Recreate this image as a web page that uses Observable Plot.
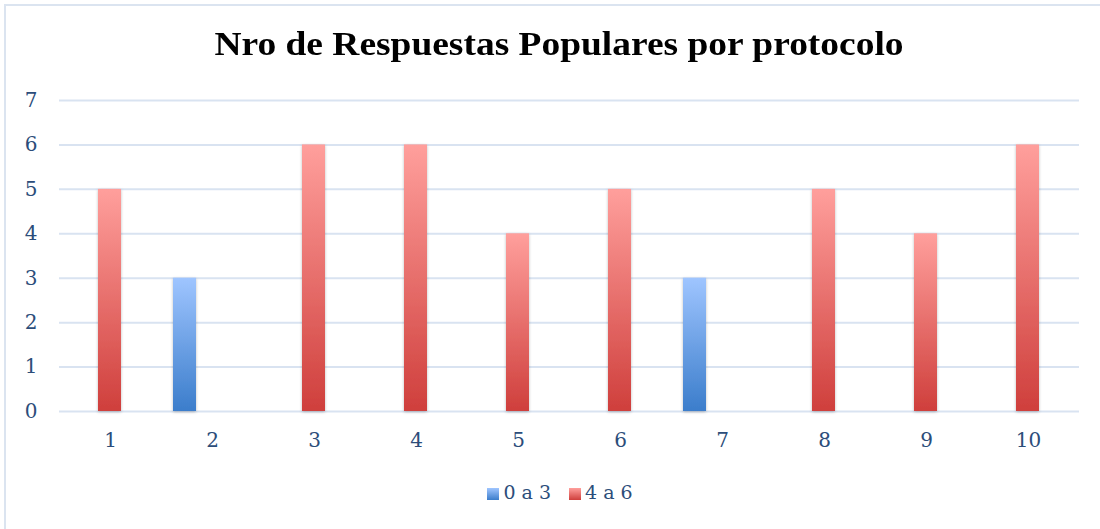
<!DOCTYPE html>
<html>
<head>
<meta charset="utf-8">
<script src="https://cdn.jsdelivr.net/npm/d3@7"></script>
<script src="https://cdn.jsdelivr.net/npm/@observablehq/plot@0.6"></script>
<style>
  html, body { margin: 0; padding: 0; background: #fff; }
  #wrap { position: relative; width: 1100px; height: 529px; overflow: hidden; background: #fff; }
  #frame { position: absolute; left: 4px; top: 4px; width: 1110px; height: 540px; border: 2px solid #dbe4f0; box-sizing: border-box; }
  #title { position: absolute; left: 0; width: 1118px; top: 26px; text-align: center; font-family: "Liberation Serif", "Times New Roman", serif; font-weight: bold; font-size: 33px; color: #000; transform: scaleX(1.135); transform-origin: 559px 0; }
  #chart { position: absolute; left: 0; top: 80px; }
  #legend { position: absolute; left: 0; width: 1120px; top: 481px; text-align: center; font-family: "DejaVu Serif", serif; font-size: 19px; color: #2c4d7a; }
  #legend span.item { display: inline-block; margin: 0 9px; }
  #legend span.sw { display: inline-block; width: 12px; height: 12px; margin-right: 4px; vertical-align: -1px; }
</style>
</head>
<body>
<div id="wrap">
  <div id="frame"></div>
  <div id="title">Nro de Respuestas Populares por protocolo</div>
  <div id="chart"></div>
  <div id="legend"></div>
</div>
<script>
const protocols = ["1", "2", "3", "4", "5", "6", "7", "8", "9", "10"];
const groups = ["4 a 6", "0 a 3", "4 a 6", "4 a 6", "4 a 6", "4 a 6", "0 a 3", "4 a 6", "4 a 6", "4 a 6"];
const values = [5, 3, 6, 6, 4, 5, 3, 5, 4, 6];
const seriesNames = ["0 a 3", "4 a 6"];
const emptySlot = "(sin serie)";
const yTicks = [0, 1, 2, 3, 4, 5, 6, 7];
const gradients = {"0 a 3": ["#9fc5ff", "#3b7dcb"], "4 a 6": ["#ff9f9c", "#cf3f3c"]};
const gradIds = {"0 a 3": "gBlue", "4 a 6": "gRed"};

const data = protocols.map((p, i) => ({protocol: p, group: groups[i], value: values[i]}));

const chart = Plot.plot({
  width: 1100,
  height: 390,
  marginLeft: 58,
  marginRight: 20,
  marginTop: 20,
  marginBottom: 59,
  style: {fontFamily: "'DejaVu Serif', serif", fontSize: "20px", color: "#2c4d7a", background: "transparent"},
  fx: {domain: protocols, padding: 0, label: null, tickSize: 0, tickPadding: 21, axis: "bottom"},
  x: {domain: [...seriesNames, emptySlot], axis: null, paddingInner: 4 / 28, paddingOuter: 0.3964},
  y: {domain: [0, 7], ticks: yTicks, tickFormat: d3.format("d"), tickSize: 0, tickPadding: 22, label: null},
  marks: [
    Plot.ruleY(yTicks, {stroke: "#d9e3f1", strokeWidth: 2}),
    ...seriesNames.map(s => Plot.barY(data.filter(d => d.group === s), {
      fx: "protocol", x: "group", y: "value", fill: `url(#${gradIds[s]})`
    }))
  ]
});

const svg = d3.select(chart.tagName.toLowerCase() === "svg" ? chart : chart.querySelector("svg"));
svg.selectAll("text")
  .style("font-family", "'DejaVu Serif', serif")
  .style("font-size", "20px")
  .style("fill", "#2c4d7a");
const defs = svg.insert("defs", ":first-child");
for (const s of seriesNames) {
  const g = defs.append("linearGradient").attr("id", gradIds[s]).attr("x1", 0).attr("y1", 0).attr("x2", 0).attr("y2", 1);
  g.append("stop").attr("offset", "0%").attr("stop-color", gradients[s][0]);
  g.append("stop").attr("offset", "100%").attr("stop-color", gradients[s][1]);
}
const f = defs.append("filter").attr("id", "shadow").attr("x", "-50%").attr("y", "-10%").attr("width", "200%").attr("height", "120%");
f.append("feDropShadow").attr("dx", 0).attr("dy", 1).attr("stdDeviation", 1.5).attr("flood-color", "#000").attr("flood-opacity", 0.25);
svg.selectAll("g[aria-label='bar'] rect").attr("filter", "url(#shadow)");

document.getElementById("chart").appendChild(chart);

const legend = d3.select("#legend");
for (const s of seriesNames) {
  const item = legend.append("span").attr("class", "item");
  item.append("span").attr("class", "sw").style("background", `linear-gradient(${gradients[s][0]}, ${gradients[s][1]})`);
  item.append("span").text(s);
}
</script>
</body>
</html>
